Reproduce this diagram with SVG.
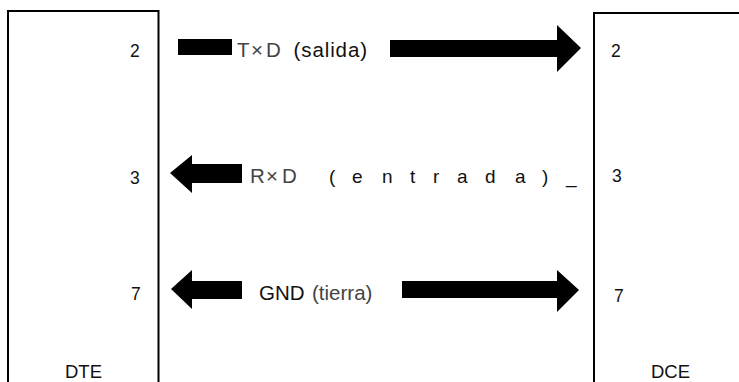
<svg xmlns="http://www.w3.org/2000/svg" width="739" height="382" viewBox="0 0 739 382">
<style>
text{font-family:"Liberation Sans",Arial,sans-serif;font-size:17.5px;fill:#111}
.cap{font-size:18.500px}
.box{fill:none;stroke:#000;stroke-width:2}
.arrow{fill:#000;stroke:none}
.thin{fill:#444}
.big{font-size:20.500px}
.mid{font-size:19px}
</style>
<rect width="739" height="382" fill="#fff"/>
<g id="dte">
<path class="box" d="M8 382V11H158.500V382"/>
<text x="130" y="57">2</text>
<text x="130" y="184">3</text>
<text x="131" y="300">7</text>
<text class="cap" x="65" y="378">DTE</text>
</g>
<g id="dce">
<path class="box" d="M594 382V13H739"/>
<text x="611" y="57">2</text>
<text x="612" y="182">3</text>
<text x="614" y="302">7</text>
<text class="cap" x="651" y="378">DCE</text>
</g>
<g id="connectors">
<rect class="arrow" x="178" y="39" width="54" height="16"/>
<path class="arrow" d="M390 40H557V25L581 48L557 72V57H390Z"/>
<path class="arrow" d="M170 173L192 155V164H242V183H192V193Z"/>
<path class="arrow" d="M171 289L192 270V281H242V299H192V309Z"/>
<path class="arrow" d="M402 281H557V270L579 290L557 312V298H402Z"/>
</g>
<g id="labels">
<text class="thin big" x="237 251 266" y="57">T×D</text>
<text class="big" x="293.500" y="57" letter-spacing="0.900">(salida)</text>
<text class="thin big" x="250 266 282" y="183">R×D</text>
<text class="mid" x="329 352 382 410 433 457 485 515 542 566" y="183">(entrada)_</text>
<text class="big" x="259" y="300">GND</text>
<text class="thin big" x="312" y="300">(tierra)</text>
</g>
</svg>
